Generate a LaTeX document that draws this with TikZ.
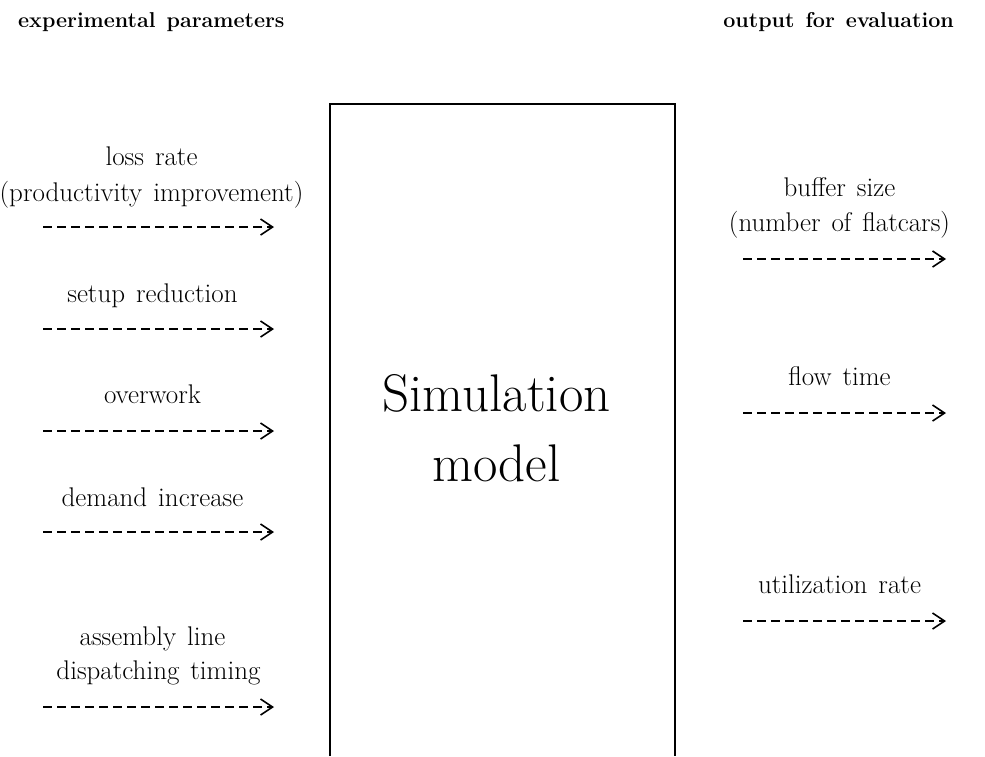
\documentclass[tikz,border=0pt]{standalone}
\usetikzlibrary{arrows.meta}
\begin{document}
\begin{tikzpicture}[x=1pt,y=-1pt,
  lbl/.style={inner sep=0pt,anchor=base,font=\fontsize{27}{34}\selectfont},
  hdr/.style={inner sep=0pt,anchor=base,font=\fontsize{21.5}{26}\selectfont\bfseries},
  dasharrow/.style={line width=1.8pt,dash pattern=on 9pt off 5pt,
    -{Straight Barb[length=12pt,width=16pt,line width=1.6pt]}},
  boxline/.style={line width=1.4pt}]
\spaceskip=11pt\relax
\useasboundingbox (0,0) rectangle (985,756);
% headers
\node[hdr,anchor=base west] (hl) at (18,27) {experimental parameters};
\node[hdr,anchor=base east] (hr) at (965,27) {output for evaluation};
% box
\coordinate (b1) at (330,756);
\coordinate (b2) at (330,104);
\coordinate (b3) at (675,104);
\coordinate (b4) at (675,756);
\draw[boxline] (b1) -- (b2) -- (b3) -- (b4);
\node[inner sep=0pt,anchor=base,font=\fontsize{53}{60}\selectfont] (sim1) at (502,411) {Simulation};
\node[inner sep=0pt,anchor=base,font=\fontsize{53}{60}\selectfont] (sim2) at (502,481) {model};
% left inputs
\node[lbl] (l1a) at (157,165) {loss rate};
\node[lbl] (l1b) at (157,201) {(productivity improvement)};
\node[lbl] (l2) at (158,302) {setup reduction};
\node[lbl] (l3) at (158,403) {overwork};
\node[lbl] (l4) at (158,506) {demand increase};
\node[lbl] (l5a) at (158,645) {assembly line};
\node[lbl] (l5b) at (164,679) {dispatching timing};
\foreach \i/\y in {1/227,2/329,3/431,4/532,5/707}{
  \coordinate (ls\i) at (43,\y);
  \coordinate (le\i) at (274,\y);
  \draw[dasharrow] (ls\i) -- (le\i);
}
% right outputs
\node[lbl] (r1a) at (845,196) {buffer size};
\node[lbl] (r1b) at (845,231) {(number of flatcars)};
\node[lbl] (r2) at (845,385) {flow time};
\node[lbl] (r3) at (845,593) {utilization rate};
\foreach \i/\y in {1/259,2/413,3/621}{
  \coordinate (rs\i) at (743,\y);
  \coordinate (re\i) at (946,\y);
  \draw[dasharrow] (rs\i) -- (re\i);
}
\end{tikzpicture}
\end{document}
